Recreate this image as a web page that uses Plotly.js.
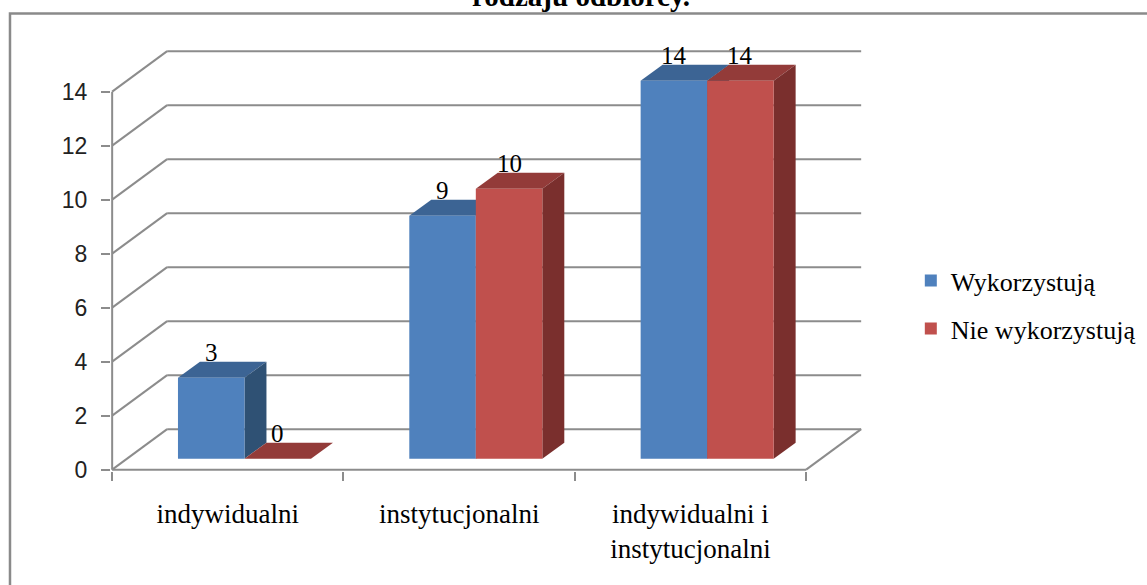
<!DOCTYPE html>
<html>
<head>
<meta charset="utf-8">
<script src="https://cdn.plot.ly/plotly-3.0.1.min.js"></script>
<style>html,body{margin:0;padding:0;background:#fff;}#chart{width:1147px;height:585px;}</style>
</head>
<body>
<div id="chart"></div>
<script>
// ---- data ----
const categories = ['indywidualni', 'instytucjonalni', 'indywidualni i<br>instytucjonalni'];
const seriesNames = ['Wykorzystują', 'Nie wykorzystują'];
const wykorzystuja = [3, 9, 14];
const nieWykorzystuja = [0, 10, 14];
const yTickVals = [0, 2, 4, 6, 8, 10, 12, 14];
const titleText = 'rodzaju odbiorcy.';

// ---- style / geometry ----
const frontColors = ['#4F81BD', '#C0504D'];
const topColors = ['#3C6494', '#933B39'];
const sideColors = ['#2F5174', '#7A2F2D'];
const gridColor = '#8C8C8C';
const bargap = 0.425;
const barW = (1 - bargap) / 2;
const backDx = 0.2378, backDy = 1.5;   // back wall offset (category units, value units)
const frontDx = 0.072, frontDy = 0.4;  // bars' front plane offset
const depthDx = 0.095, depthDy = 0.6;  // bar depth
const xRange = [-0.505, 2.7414];
const yRange = [-0.05, 15.543];
const yMax = yTickVals[yTickVals.length - 1];
const serif = 'Liberation Serif, Times New Roman, serif';

const series = [wykorzystuja, nieWykorzystuja];

const traces = [];
// invisible trace to register categories on the frame axis
traces.push({type: 'scatter', x: categories, y: categories.map(() => 0), xaxis: 'x', yaxis: 'y',
  mode: 'markers', marker: {opacity: 0}, showlegend: false, hoverinfo: 'skip'});
series.forEach((vals, s) => {
  traces.push({
    type: 'bar', name: seriesNames[s], x: categories, y: vals,
    xaxis: 'x2', yaxis: 'y2',
    marker: {color: frontColors[s], line: {width: 0}},
    legendgroup: 'g' + s, hoverinfo: 'skip'
  });
});

const shapes = [];
const gline = (x0, y0, x1, y1) => ({type: 'line', xref: 'x', yref: 'y', x0, y0, x1, y1,
  layer: 'below', line: {color: gridColor, width: 2}});
// back wall gridlines + diagonals
yTickVals.forEach(v => {
  shapes.push(gline(-0.5, v, -0.5 + backDx, v + backDy));
  shapes.push(gline(-0.5 + backDx, v + backDy, 2.5 + backDx, v + backDy));
});
// floor front edge, right diagonal, y axis line
shapes.push(gline(-0.5, 0, 2.5, 0));
shapes.push(gline(2.5, 0, 2.5 + backDx, backDy));
shapes.push(gline(-0.5, 0, -0.5, yMax));

// 3D faces of bars
const annotations = [];
series.forEach((vals, s) => {
  vals.forEach((v, i) => {
    const xl = i - barW + s * barW, xr = xl + barW;
    shapes.push({type: 'path', xref: 'x2', yref: 'y2', layer: 'below', line: {width: 0},
      fillcolor: topColors[s],
      path: `M${xl},${v}L${xr},${v}L${xr + depthDx},${v + depthDy}L${xl + depthDx},${v + depthDy}Z`});
    shapes.push({type: 'path', xref: 'x2', yref: 'y2', layer: 'below', line: {width: 0},
      fillcolor: sideColors[s],
      path: `M${xr},0L${xr},${v}L${xr + depthDx},${v + depthDy}L${xr + depthDx},${depthDy}Z`});
    annotations.push({xref: 'x2', yref: 'y2', x: (xl + xr) / 2, y: v + depthDy, text: String(v),
      showarrow: false, yanchor: 'bottom', yshift: -6,
      font: {family: serif, size: 25, color: '#000'}});
  });
});

// partial title (cut off at top)
annotations.push({xref: 'paper', yref: 'paper', x: 0.626, y: 1, yanchor: 'middle', yshift: 54,
  text: '<b>' + titleText + '</b>', showarrow: false,
  font: {family: serif, size: 29, color: '#000'}});

// chart border
shapes.push({type: 'rect', xref: 'paper', yref: 'paper', x0: -0.1345, x1: 1.6, y0: -0.5, y1: 1.0867,
  layer: 'below', line: {color: '#8A8A8A', width: 2.5}, fillcolor: 'rgba(0,0,0,0)'});

const layout = {
  width: 1147, height: 585,
  margin: {l: 111, r: 285, t: 50, b: 114, pad: 0, autoexpand: false},
  paper_bgcolor: '#fff', plot_bgcolor: 'rgba(0,0,0,0)',
  barmode: 'group', bargap: bargap, bargroupgap: 0,
  showlegend: true,
  legend: {x: 1.065, xanchor: 'left', y: 0.395, yanchor: 'middle', traceorder: 'grouped',
    tracegroupgap: 11, bgcolor: 'rgba(0,0,0,0)', itemwidth: 30,
    font: {family: serif, size: 26, color: '#000'}},
  xaxis: {type: 'category', range: xRange, tickson: 'boundaries', ticks: 'outside', ticklen: 9,
    tickwidth: 2, tickcolor: gridColor, showgrid: false, zeroline: false, showline: false,
    ticklabelstandoff: 24,
    tickfont: {family: serif, size: 27, color: '#000'}},
  yaxis: {range: yRange, tickvals: yTickVals, ticks: 'outside', ticklen: 9, tickwidth: 2,
    tickcolor: gridColor, showgrid: false, zeroline: false, showline: false,
    ticklabelstandoff: 9,
    tickfont: {family: 'Liberation Sans, Arial, sans-serif', size: 23, color: '#222'}},
  xaxis2: {type: 'category', overlaying: 'x', anchor: 'y2', range: [xRange[0] - frontDx, xRange[1] - frontDx],
    visible: false},
  yaxis2: {overlaying: 'y', anchor: 'x2', range: [yRange[0] - frontDy, yRange[1] - frontDy], visible: false},
  shapes: shapes,
  annotations: annotations
};

Plotly.newPlot('chart', traces, layout, {staticPlot: true, displayModeBar: false});
</script>
</body>
</html>
